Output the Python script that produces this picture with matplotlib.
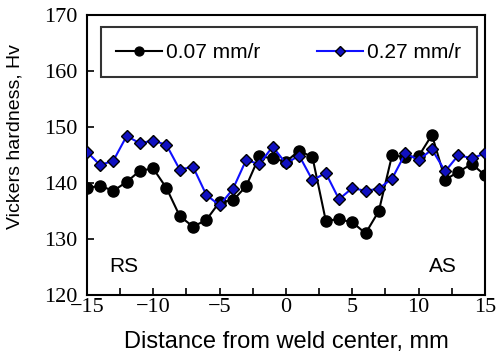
import matplotlib
matplotlib.use("Agg")
import matplotlib.pyplot as plt
import numpy as np

distance = list(range(-15, 16))
hv_007 = [139.1, 139.5, 138.6, 140.2, 142.2, 142.6, 139.1, 134.1, 132.2, 133.4,
          136.6, 136.9, 139.4, 144.8, 144.4, 143.8, 145.8, 144.6, 133.3, 133.5,
          133.0, 131.0, 135.0, 145.0, 144.6, 144.8, 148.6, 140.6, 142.0, 143.4, 141.4]
hv_027 = [145.6, 143.2, 144.0, 148.4, 147.1, 147.6, 146.8, 142.4, 142.9, 137.9,
          136.0, 138.9, 144.1, 143.4, 146.5, 143.5, 144.9, 140.5, 141.8, 137.1,
          139.1, 138.6, 139.0, 140.8, 145.3, 144.1, 146.0, 142.1, 145.0, 144.4, 145.3]
series_labels = ["0.07 mm/r", "0.27 mm/r"]
xticks = [-15, -10, -5, 0, 5, 10, 15]
yticks = [120, 130, 140, 150, 160, 170]

fig = plt.figure(figsize=(4.99, 3.61), dpi=100)
ax = fig.add_axes([0.174, 0.183, 0.798, 0.775])

ax.plot(distance, hv_007, color="black", lw=1.5, marker="o", ms=8,
        mfc="black", mec="black", label=series_labels[0], zorder=3)
ax.plot(distance, hv_027, color="#1010ff", lw=1.5, marker="D", ms=6.3,
        mfc="#1010c0", mec="black", mew=1.0, label=series_labels[1], zorder=4)

ax.set_xlim(-15, 15)
ax.set_ylim(120, 170)
ax.set_xticks(xticks)
ax.set_xticks(np.arange(-12.5, 15, 5), minor=True)
ax.set_yticks(yticks)
serif = "Liberation Serif"
ax.set_xticklabels([("\u2212%d" % -t) if t < 0 else str(t) for t in xticks],
                   family=serif, fontsize=16)
ax.set_yticklabels([str(t) for t in yticks], family=serif, fontsize=16)
ax.tick_params(which="both", direction="in", length=5, width=1.2, top=False, right=False)
ax.tick_params(axis="x", pad=2)
ax.tick_params(axis="y", pad=7)
for s in ax.spines.values():
    s.set_linewidth(1.5)

sans = "Liberation Sans"
ax.set_xlabel("Distance from weld center, mm", family=sans, fontsize=17, labelpad=10)
ax.set_ylabel("Vickers hardness, Hv", family=sans, fontsize=14)
ax.yaxis.set_label_coords(-0.158, 0.565)

ax.text(-12.2, 125, "RS", family=sans, fontsize=15, ha="center", va="center")
ax.text(11.8, 125, "AS", family=sans, fontsize=15, ha="center", va="center")

leg = ax.legend(loc="upper left", bbox_to_anchor=(0.035, 0.957, 0.945, 0.0),
                mode="expand", ncol=2, frameon=True, fancybox=False, borderaxespad=0,
                edgecolor="black", prop={"family": sans, "size": 15},
                handlelength=2.2, handletextpad=0.2, borderpad=0.75, columnspacing=1.0,
                markerscale=0.8)
leg.get_frame().set_linewidth(1.5)

fig.savefig("out.png", dpi=100)
